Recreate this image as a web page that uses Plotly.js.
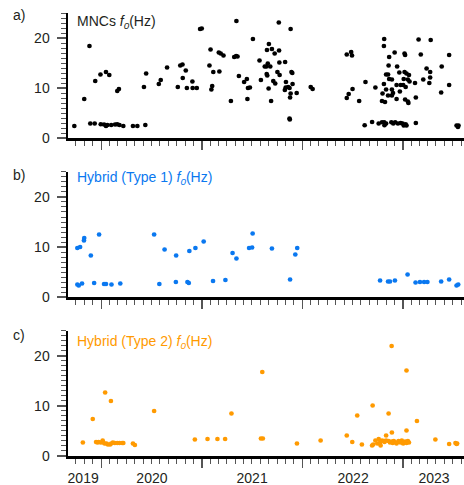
<!DOCTYPE html>
<html>
<head>
<meta charset="utf-8">
<script src="https://cdn.plot.ly/plotly-3.0.1.min.js"></script>
<style>html,body{margin:0;padding:0;background:#fff;}#chart{width:464px;height:485px;}</style>
</head>
<body>
<div id="chart"></div>
<script>
// ---------- data ----------
const mncDates = [
 '2019-09-25','2019-11-22','2019-12-08','2019-12-30','2020-01-11','2020-01-18','2020-01-23','2020-02-06','2020-02-20','2020-02-28',
 '2020-03-07','2020-03-21','2020-04-25','2020-05-11','2020-06-09',
 '2019-10-31','2019-11-19','2019-12-10','2019-12-29','2020-01-18','2020-01-30','2020-02-28','2020-03-05','2020-06-04','2020-06-12',
 '2020-07-28','2020-08-04','2020-08-27','2020-10-05','2020-10-14','2020-10-22','2020-10-23','2020-11-03','2020-11-07','2020-11-27',
 '2020-11-28','2020-12-13','2020-12-25','2020-12-31',
 '2021-01-28','2021-02-01','2021-02-04','2021-02-07','2021-02-11','2021-03-03','2021-03-05','2021-03-10','2021-03-20','2021-04-16',
 '2021-04-28','2021-05-05','2021-05-06','2021-05-10','2021-05-15','2021-06-03','2021-06-13','2021-06-15','2021-06-17','2021-06-24',
 '2021-07-05','2021-07-29','2021-08-03','2021-08-17','2021-08-23','2021-08-24','2021-08-25','2021-08-26','2021-08-28','2021-08-31',
 '2021-09-01','2021-09-06','2021-09-09','2021-09-12','2021-09-17','2021-09-22','2021-09-24','2021-10-02','2021-10-07','2021-10-08',
 '2021-10-09','2021-10-10','2021-10-29','2021-10-30','2021-11-01','2021-11-02','2021-11-10','2021-11-15','2021-11-15','2021-11-16',
 '2021-11-17','2021-11-19','2021-11-19','2021-11-22','2021-11-25','2021-11-26','2021-12-11','2022-01-31','2022-02-07',
 '2022-06-11','2022-06-11','2022-06-18','2022-06-27','2022-06-30','2022-07-02','2022-07-26','2022-08-15','2022-08-18','2022-09-11',
 '2022-09-23','2022-10-05','2022-10-17','2022-10-17','2022-10-19','2022-10-24','2022-10-24','2022-10-25','2022-10-25','2022-10-26',
 '2022-10-28','2022-11-01','2022-11-01','2022-11-01','2022-11-08','2022-11-08','2022-11-10','2022-11-12','2022-11-12','2022-11-20',
 '2022-11-22','2022-11-22','2022-11-22','2022-11-26','2022-11-27','2022-12-02','2022-12-04','2022-12-09','2022-12-09','2022-12-11',
 '2022-12-14','2022-12-19','2022-12-21','2022-12-24','2022-12-24','2022-12-31','2023-01-02','2023-01-04','2023-01-04','2023-01-07',
 '2023-01-07','2023-01-09','2023-01-09','2023-01-11','2023-01-11','2023-01-14','2023-01-14','2023-01-19','2023-01-19','2023-01-21',
 '2023-01-23','2023-01-25','2023-02-14','2023-02-17','2023-02-17','2023-02-27','2023-03-07','2023-03-16','2023-03-28','2023-04-07',
 '2023-04-10','2023-04-10','2023-04-12','2023-05-20','2023-05-22','2023-06-18','2023-06-18','2023-07-15','2023-07-20','2023-07-22'
];
const mncHz = [
 2.4,2.9,2.9,2.75,2.7,2.4,2.6,2.6,2.7,2.75,
 2.6,2.4,2.4,2.4,2.6,
 7.8,18.4,11.4,12.7,13.2,12.6,9.4,9.8,10.2,12.9,
 10.8,11.6,14.1,10.2,14.5,14.7,12.0,13.5,10.0,11.3,
 10.0,10.0,21.8,21.9,
 14.5,17.7,9.7,10.4,13.2,17.1,13.3,16.9,16.5,7.4,
 16.2,16.4,23.4,16.3,12.4,11.2,11.8,7.8,10.0,10.1,
 19.8,15.5,11.6,14.3,14.3,12.8,17.6,12.5,14.9,9.9,
 18.8,14.3,7.4,17.8,11.4,16.9,10.9,13.2,23.1,17.5,
 15.1,12.6,9.6,15.2,10.1,11.2,10.2,10.0,3.9,3.7,
 8.1,21.8,8.9,13.2,13.0,10.8,9.0,10.2,9.8,
 16.7,8.0,8.8,17.2,16.5,9.8,7.4,2.55,11.2,3.2,
 10.1,2.9,3.15,7.4,8.9,10.8,18.4,19.8,3.15,2.55,
 7.2,12.7,9.7,2.9,12.7,8.5,14.5,16.2,11.8,3.15,
 11.7,9.7,8.5,9.0,2.9,17.1,3.15,10.6,7.8,14.3,
 2.9,13.1,9.3,10.6,3.0,2.9,10.6,11.8,2.5,16.9,
 13.2,16.6,7.7,10.2,2.75,12.9,2.5,11.7,7.3,7.0,
 12.6,11.3,11.0,8.1,3.0,19.7,16.7,11.7,13.9,11.0,
 13.2,12.1,19.6,9.1,14.3,10.6,16.6,2.5,2.2,2.5
];

const type1Dates = [
 '2019-10-06','2019-10-16','2019-10-06','2019-10-11','2019-10-23','2019-10-30','2019-10-31','2019-11-24','2019-12-06','2019-12-24',
 '2020-01-11','2020-01-18','2020-02-07','2020-03-10','2020-07-11','2020-07-30','2020-08-18','2020-09-28','2020-09-29','2020-11-09',
 '2020-11-14','2020-11-16','2020-12-08','2021-01-07','2021-02-10','2021-03-27','2021-04-22','2021-05-06','2021-06-21','2021-07-02',
 '2021-07-04','2021-09-12','2021-11-17','2021-12-06','2021-12-13','2022-10-10','2022-11-08','2022-11-15','2022-12-03','2023-01-18',
 '2023-02-16','2023-03-04','2023-03-19','2023-03-31','2023-05-20','2023-06-18','2023-07-15','2023-07-21'
];
const type1Hz = [
 9.8,10.0,2.5,2.3,2.7,11.3,11.8,8.3,2.8,12.5,
 2.6,2.6,2.5,2.7,12.5,2.6,9.5,3.0,8.3,3.0,
 2.8,9.2,9.8,11.1,3.2,3.4,8.8,7.7,9.8,9.9,
 12.7,9.7,3.5,8.5,9.8,3.3,3.1,3.1,3.3,4.5,
 2.9,3.0,3.0,3.0,3.1,3.5,2.3,2.5
];

const type2Dates = [
 '2019-10-26','2019-12-01','2019-12-13','2019-12-18','2019-12-22','2019-12-30','2020-01-06','2020-01-08','2020-01-13','2020-01-20',
 '2020-01-25','2020-02-02','2020-02-06','2020-02-12','2020-02-19','2020-02-28','2020-03-07','2020-03-17','2020-03-21','2020-01-15',
 '2020-02-05','2020-04-25','2020-05-02','2020-07-11','2020-12-06','2021-01-21','2021-02-26','2021-03-26','2021-04-18','2021-08-03',
 '2021-08-10','2021-08-08','2021-12-12','2022-03-08','2022-06-11','2022-07-01','2022-07-19','2022-08-05','2022-09-13',
 '2022-09-11','2022-09-15','2022-09-23','2022-09-30','2022-10-05','2022-10-10','2022-10-12','2022-10-17','2022-10-24','2022-10-26',
 '2022-11-01','2022-11-01','2022-11-10','2022-11-10','2022-11-15','2022-11-21','2022-11-22','2022-11-22','2022-11-25','2022-11-29',
 '2022-12-06','2022-12-09','2022-12-16','2022-12-19','2022-12-24','2022-12-28','2023-01-01','2023-01-02','2023-01-09','2023-01-14',
 '2023-01-14','2023-01-14','2023-01-19','2023-01-23','2023-02-21','2023-04-29','2023-06-18','2023-07-11','2023-07-15','2023-07-17'
];
const type2Hz = [
 2.7,7.4,2.8,2.7,2.8,2.7,3.1,2.7,2.5,2.5,
 2.3,2.3,2.5,2.7,2.6,2.6,2.6,2.6,2.6,12.7,
 11.0,2.5,2.2,9.0,3.3,3.4,3.4,3.4,8.5,3.5,
 3.5,16.8,2.5,3.1,4.1,2.8,8.1,2.3,10.1,
 2.1,2.3,3.1,2.5,3.4,2.7,2.1,3.1,3.0,2.8,
 3.1,4.1,3.0,8.5,2.7,22.0,2.9,4.7,2.6,3.0,
 2.7,2.5,3.0,2.8,2.7,3.1,2.7,2.5,2.9,2.6,
 17.1,5.1,3.0,2.7,7.0,3.3,2.4,2.6,2.4,2.5
];

const xRange = ['2019-09-02','2023-08-11'];
const yearBoundaries = ['2020-01-01','2021-01-01','2022-01-01','2023-01-01'];
const yearLabelPos = ['2019-10-27','2020-07-03','2021-07-02','2022-07-04','2023-04-24'];
const yearLabels = ['2019','2020','2021','2022','2023'];
const yTicks = [0,10,20];

const panelLetters = ['a)','b)','c)'];
const panelTitles = ['MNCs <i>f</i><sub><i>0</i></sub>(Hz)',
                     'Hybrid (Type 1) <i>f</i><sub><i>0</i></sub>(Hz)',
                     'Hybrid (Type 2) <i>f</i><sub><i>0</i></sub>(Hz)'];
const colors = ['#000000','#0a78f0','#ff9a00'];

// ---------- layout ----------
const FONT = 'Liberation Sans, Arial, Helvetica, sans-serif';
const TXT = '#231f20';

function xAxis(anchor){
  return {
    type:'date', range:xRange, anchor:anchor,
    showline:true, linecolor:'#000', linewidth:2.5,
    showgrid:false, zeroline:false, showticklabels:false,
    tickmode:'array', tickvals:yearBoundaries,
    ticks:'outside', ticklen:9, tickwidth:1.2, tickcolor:'#555',
    minor:{dtick:'M1', tick0:'2020-01-01', ticks:'outside', ticklen:5, tickwidth:1, tickcolor:'#555', showgrid:false},
    fixedrange:true
  };
}
function yAxis(anchor, domain){
  return {
    range:[0,25], domain:domain, anchor:anchor,
    showline:true, linecolor:'#000', linewidth:2.5,
    showgrid:false, zeroline:false,
    tickmode:'array', tickvals:yTicks,
    ticks:'outside', ticklen:9, tickwidth:1.2, tickcolor:'#555',
    ticklabelstandoff:4,
    minor:{dtick:1, ticks:'outside', ticklen:5, tickwidth:1, tickcolor:'#555', showgrid:false},
    tickfont:{family:FONT, size:14, color:TXT},
    fixedrange:true
  };
}

const doms = [[0.7178,1],[0.3589,0.6411],[0,0.2822]];
const traces = [
  {x:mncDates, y:mncHz, xaxis:'x', yaxis:'y', type:'scatter', mode:'markers',
   marker:{color:colors[0], size:4.7}, hoverinfo:'skip'},
  {x:type1Dates, y:type1Hz, xaxis:'x2', yaxis:'y2', type:'scatter', mode:'markers',
   marker:{color:colors[1], size:4.7}, hoverinfo:'skip'},
  {x:type2Dates, y:type2Hz, xaxis:'x3', yaxis:'y3', type:'scatter', mode:'markers',
   marker:{color:colors[2], size:4.7}, hoverinfo:'skip'},
  {x:[], y:[], xaxis:'x4', yaxis:'y3', type:'scatter', mode:'markers', hoverinfo:'skip', showlegend:false}
];

const letterY = [0.9955, 0.634, 0.274];
const titleY = [0.9808, 0.627, 0.258];
const annotations = [];
for (let i=0;i<3;i++){
  annotations.push({xref:'paper', yref:'paper', x:-0.1225, y:letterY[i], xanchor:'center', yanchor:'middle',
    text:panelLetters[i], showarrow:false, font:{family:FONT, size:14, color:TXT}});
  annotations.push({xref:'paper', yref:'paper', x:0.018, y:titleY[i], xanchor:'left', yanchor:'middle',
    text:panelTitles[i], showarrow:false, font:{family:FONT, size:14, color:i===0?TXT:colors[i]}});
}

const layout = {
  width:464, height:485,
  margin:{l:68, r:0, t:13, b:29, pad:0},
  paper_bgcolor:'#fff', plot_bgcolor:'#fff',
  showlegend:false,
  font:{family:FONT, size:14, color:TXT},
  xaxis:xAxis('y'), xaxis2:xAxis('y2'), xaxis3:xAxis('y3'),
  xaxis4:{type:'date', range:xRange, overlaying:'x3', anchor:'y3', side:'bottom',
          showline:false, showgrid:false, zeroline:false,
          tickmode:'array', tickvals:yearLabelPos, ticktext:yearLabels,
          ticks:'outside', ticklen:9, tickcolor:'rgba(0,0,0,0)',
          tickfont:{family:FONT, size:14, color:TXT}, fixedrange:true},
  yaxis:yAxis('x', doms[0]), yaxis2:yAxis('x2', doms[1]), yaxis3:yAxis('x3', doms[2]),
  annotations:annotations
};

Plotly.newPlot('chart', traces, layout, {displayModeBar:false, staticPlot:true});
</script>
</body>
</html>
